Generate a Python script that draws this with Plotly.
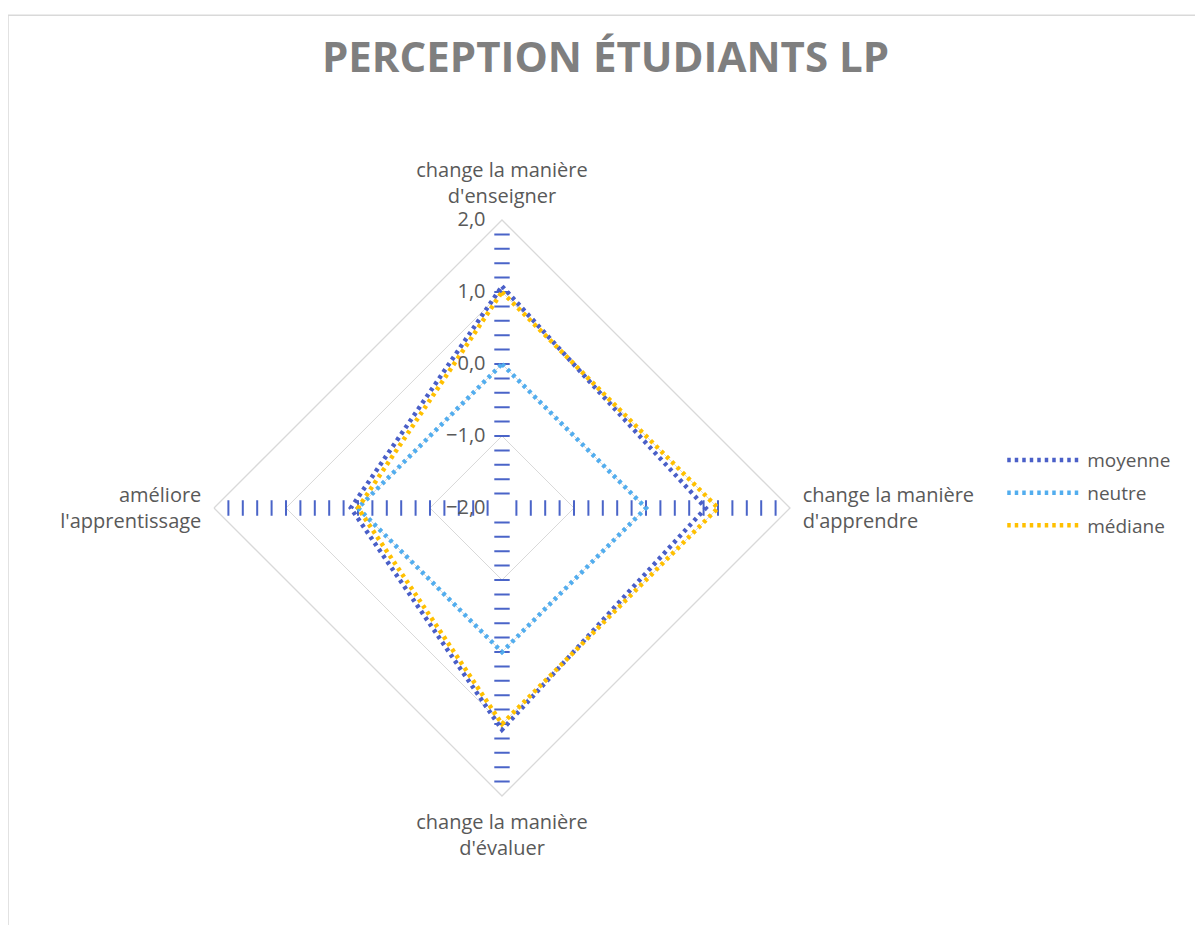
"""
Radar chart: perception des étudiants LP.
"""
import plotly.graph_objects as go

categories = [
    "change la manière<br>d'enseigner",
    "change la manière<br>d'apprendre",
    "change la manière<br>d'évaluer",
    "améliore<br>l'apprentissage",
]
moyenne = [1.08, 0.83, 1.08, 0.1]
neutre = [0.0, 0.0, 0.0, 0.0]
mediane = [1.0, 1.0, 1.0, 0.0]

radial_ticks = [-2.0, -1.0, 0.0, 1.0, 2.0]
minor_ticks = [round(-1.8 + 0.2 * i, 1) for i in range(20)]

TEXT = "#595959"
GRID = "#D9D9D9"
TICK = "#4A64C8"
FONT = "'Open Sans', Lato, sans-serif"

fig = go.Figure()

# blue tick dashes along every spoke
for cat in categories:
    vertical_spoke = cat in (categories[0], categories[2])
    fig.add_trace(go.Scatterpolar(
        r=minor_ticks,
        theta=[cat] * len(minor_ticks),
        mode="markers",
        cliponaxis=True,
        marker=dict(
            symbol="line-ew" if vertical_spoke else "line-ns",
            size=11,
            line=dict(color=TICK, width=2),
        ),
        showlegend=False,
        hoverinfo="skip",
    ))

series = [
    ("moyenne", moyenne, "#4A5FC8"),
    ("neutre", neutre, "#52ADEE"),
    ("médiane", mediane, "#FFC000"),
]
for name, vals, color in series:
    fig.add_trace(go.Scatterpolar(
        r=vals + vals[:1],
        theta=categories + categories[:1],
        mode="lines",
        name=name,
        legendgroup=name,
        line=dict(color=color, width=4.5, dash="3.5px,4px"),
    ))

fig.update_layout(
    width=1195,
    height=917,
    separators=", ",
    paper_bgcolor="white",
    font=dict(family=FONT, color=TEXT, size=20),
    margin=dict(t=0, b=0, l=0, r=0),
    title=dict(
        text="<b>PERCEPTION ÉTUDIANTS LP</b>",
        x=0.5, xanchor="center",
        y=0.946, yanchor="middle",
        font=dict(size=42, color="#7F7F7F", family=FONT),
    ),
    polar=dict(
        domain=dict(x=[0.17238, 0.65439], y=[0.14068, 0.76881]),
        bgcolor="white",
        gridshape="linear",
        radialaxis=dict(
            range=[-2, 2],
            tickvals=radial_ticks,
            tickformat=".1f",
            angle=90,
            tickangle=90,
            side="counterclockwise",
            showline=False,
            ticks="outside",
            ticklen=9,
            tickcolor="rgba(0,0,0,0)",
            gridcolor=GRID,
            gridwidth=1.3,
            tickfont=dict(size=20, color=TEXT),
        ),
        angularaxis=dict(
            rotation=90,
            direction="clockwise",
            showgrid=False,
            showline=True,
            linecolor=GRID,
            linewidth=1.3,
            ticks="outside",
            ticklen=8,
            tickcolor="rgba(0,0,0,0)",
            tickfont=dict(size=20, color=TEXT),
        ),
    ),
    legend=dict(
        x=0.832, y=0.471, xanchor="left", yanchor="middle",
        font=dict(size=19, color=TEXT),
        tracegroupgap=5,
        itemwidth=75,
    ),
    shapes=[
        dict(type="rect", xref="paper", yref="paper",
             x0=0.0, x1=1.05, y0=-0.05, y1=0.992,
             line=dict(color=GRID, width=1.5)),
    ],
)

fig.write_html("out.html")
